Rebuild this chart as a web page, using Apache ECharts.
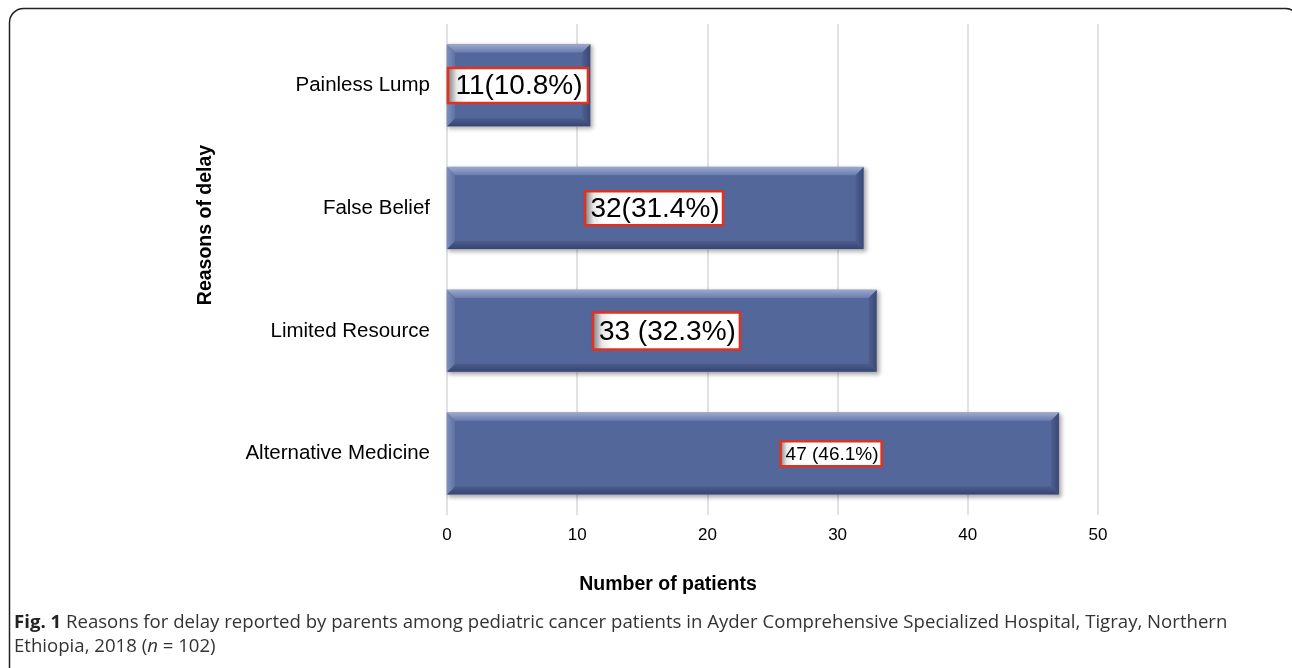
<!DOCTYPE html>
<html>
<head>
<meta charset="utf-8">
<title>Reasons of delay</title>
<script src="https://cdn.jsdelivr.net/npm/echarts@6/dist/echarts.min.js"></script>
<style>
  html, body { margin: 0; padding: 0; background: #fff; }
  #chart { width: 1292px; height: 668px; }
</style>
</head>
<body>
<div id="chart"></div>
<script>
// data, bottom to top as drawn
const categories = ['Alternative Medicine', 'Limited Resource', 'False Belief', 'Painless Lump'];
const patients = [47, 33, 32, 11];
const barLabels = ['47 (46.1%)', '33 (32.3%)', '32(31.4%)', '11(10.8%)'];
const xTicks = [0, 10, 20, 30, 40, 50];

// where each label box sits (x centre in axis units) and how big it is
const labelLayout = [
    { at: 29.5, w: 101, h: 25, size: 19 },
    { at: 16.85, w: 147, h: 37, size: 28 },
    { at: 15.9, w: 138, h: 34, size: 28 },
    { at: 5.45, w: 140, h: 35, size: 28 }
];

const FONT = '"Liberation Sans", Arial, sans-serif';
const CAPTION_FONT = '"Open Sans", sans-serif';

function bevelBar(params, api) {
    const v = api.value(0);
    const i = api.value(1);
    const start = api.coord([0, i]);
    const end = api.coord([v, i]);
    const h = api.size([0, 1])[1] * 0.667;
    const x0 = start[0], x1 = end[0];
    const y0 = start[1] - h / 2, y1 = start[1] + h / 2;
    const b = 8;
    const lin = (x, y, x2, y2, c1, c2) => new echarts.graphic.LinearGradient(x, y, x2, y2, [
        { offset: 0, color: c1 }, { offset: 1, color: c2 }
    ]);
    const lay = labelLayout[i];
    const cx = api.coord([lay.at, i])[0];
    return {
        type: 'group',
        children: [
            {
                type: 'rect',
                shape: { x: x0, y: y0, width: x1 - x0, height: h },
                style: {
                    fill: '#53679b', stroke: '#9ea6bd', lineWidth: 1,
                    shadowBlur: 4, shadowOffsetX: 2, shadowOffsetY: 2, shadowColor: 'rgba(0,0,0,0.3)'
                }
            },
            {
                type: 'polygon',
                shape: { points: [[x0, y0], [x1, y0], [x1 - b, y0 + b], [x0 + b, y0 + b]] },
                style: { fill: lin(0, 0, 0, 1, '#9aa8cf', '#6b7dae') }
            },
            {
                type: 'polygon',
                shape: { points: [[x0, y1], [x1, y1], [x1 - b, y1 - b], [x0 + b, y1 - b]] },
                style: { fill: lin(0, 1, 0, 0, '#364570', '#4b5d8e') }
            },
            {
                type: 'polygon',
                shape: { points: [[x1, y0], [x1, y1], [x1 - b, y1 - b], [x1 - b, y0 + b]] },
                style: { fill: lin(1, 0, 0, 0, '#3a4874', '#4d5f90') }
            },
            {
                type: 'polygon',
                shape: { points: [[x0, y0], [x0, y1], [x0 + b, y1 - b], [x0 + b, y0 + b]] },
                style: { fill: lin(0, 0, 1, 0, '#7e8fbd', '#5e71a4') }
            },
            {
                type: 'rect',
                shape: { x: cx - lay.w / 2, y: start[1] - lay.h / 2, width: lay.w, height: lay.h },
                style: {
                    fill: new echarts.graphic.LinearGradient(0, 0, 1, 0, [
                        { offset: 0, color: '#6d6d6d' },
                        { offset: 0.07, color: '#e8e8e8' },
                        { offset: 0.14, color: '#ffffff' },
                        { offset: 1, color: '#ffffff' }
                    ]),
                    stroke: '#e2321f', lineWidth: 2.5
                }
            },
            {
                type: 'text',
                style: {
                    text: barLabels[i], x: cx + 1, y: start[1] + 1,
                    align: 'center', verticalAlign: 'middle',
                    fill: '#000', fontSize: lay.size, fontFamily: FONT
                }
            }
        ]
    };
}

const chart = echarts.init(document.getElementById('chart'));
chart.setOption({
    animation: false,
    backgroundColor: '#fff',
    grid: { left: 447, right: 194, top: 24, bottom: 153 },
    xAxis: {
        type: 'value',
        min: xTicks[0],
        max: xTicks[xTicks.length - 1],
        interval: xTicks[1] - xTicks[0],
        axisLine: { show: false },
        axisTick: { show: false },
        axisLabel: { color: '#000', fontSize: 17, fontFamily: FONT, margin: 12 },
        splitLine: { lineStyle: { color: '#d9d9d9', width: 1.5 } }
    },
    yAxis: {
        type: 'category',
        data: categories,
        axisLine: { show: false },
        axisTick: { show: false },
        axisLabel: { color: '#000', fontSize: 20.5, fontFamily: FONT, margin: 17 },
        splitLine: { show: false }
    },
    graphic: [
        {
            type: 'rect', z: -10, silent: true,
            shape: { x: 9.5, y: 8.5, width: 1290, height: 720, r: 14 },
            style: { fill: 'none', stroke: '#222', lineWidth: 1.5 }
        },
        {
            type: 'text', x: 668, y: 585,
            style: {
                text: 'Number of patients', align: 'center', verticalAlign: 'middle',
                fontSize: 19.5, fontWeight: 'bold', fontFamily: FONT, fill: '#000'
            }
        },
        {
            type: 'text', x: 206, y: 225, rotation: Math.PI / 2,
            style: {
                text: 'Reasons of delay', align: 'center', verticalAlign: 'middle',
                fontSize: 19.5, fontWeight: 'bold', fontFamily: FONT, fill: '#000'
            }
        },
        {
            type: 'text', x: 14, y: 611,
            style: {
                text: '{b|Fig. 1} Reasons for delay reported by parents among pediatric cancer patients in Ayder Comprehensive Specialized Hospital, Tigray, Northern\nEthiopia, 2018 ({i|n} = 102)',
                fontSize: 18.6, fontFamily: CAPTION_FONT, fill: '#333', lineHeight: 24,
                rich: {
                    b: { fontWeight: 'bold', fontSize: 18.6, fontFamily: CAPTION_FONT, fill: '#222', lineHeight: 24 },
                    i: { fontStyle: 'italic', fontSize: 18.6, fontFamily: CAPTION_FONT, fill: '#333', lineHeight: 24 }
                }
            }
        }
    ],
    series: [{
        type: 'custom',
        renderItem: bevelBar,
        encode: { x: 0, y: 1 },
        data: patients.map((v, i) => [v, i])
    }]
});
</script>
</body>
</html>
